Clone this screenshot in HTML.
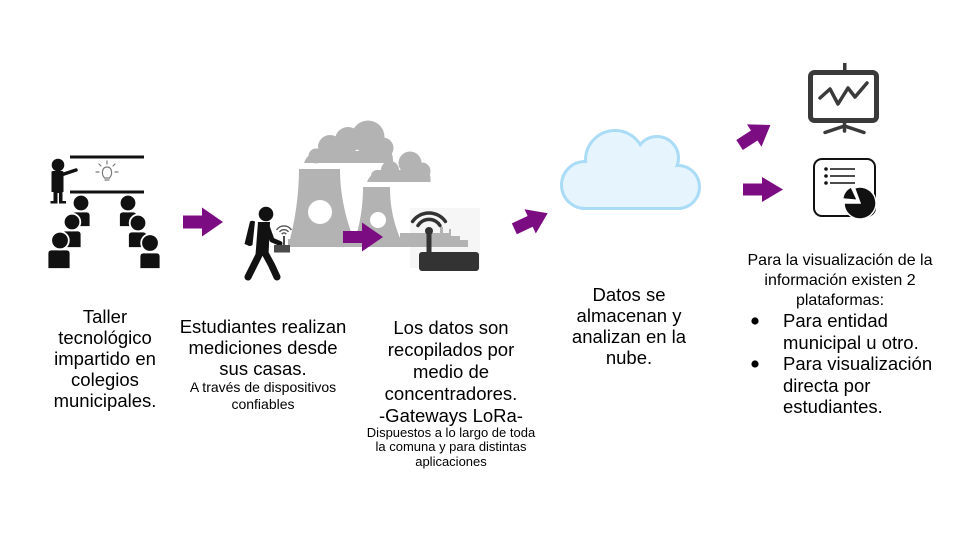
<!DOCTYPE html>
<html>
<head>
<meta charset="utf-8">
<style>
  html,body{margin:0;padding:0;background:#fff;}
  #wrap{position:relative;width:960px;height:540px;overflow:hidden;background:#fff;font-family:"Liberation Sans",Arial,sans-serif;color:#000;}
  svg{position:absolute;left:0;top:0;}
  .t{position:absolute;text-align:center;white-space:nowrap;font-size:18.5px;line-height:21px;}
  .s{font-size:14px;line-height:17px;}
</style>
</head>
<body>
<div id="wrap">
<svg width="960" height="540" viewBox="0 0 960 540" xmlns="http://www.w3.org/2000/svg">
  <!-- ===== Teacher / classroom icon ===== -->
  <rect x="70" y="155.5" width="74" height="3" fill="#111"/>
  <rect x="70" y="190.5" width="74" height="3" fill="#111"/>
  <!-- bulb -->
  <g stroke="#7a7a7a" stroke-width="1.2" fill="none" stroke-linecap="round">
    <path d="M104.5 178 C101 174 102 167 107 167 C112 167 113 174 109.5 178 Z"/>
    <line x1="105" y1="180" x2="109" y2="180"/>
    <line x1="107" y1="161" x2="107" y2="164"/>
    <line x1="99" y1="164" x2="101" y2="166"/>
    <line x1="115" y1="164" x2="113" y2="166"/>
    <line x1="96" y1="172" x2="99" y2="172"/>
    <line x1="115" y1="172" x2="118" y2="172"/>
  </g>
  <!-- teacher -->
  <circle cx="58" cy="165" r="6.3" fill="#111"/>
  <path d="M51.5 172 Q51.5 171 53 171 L62 171 Q63.5 171 63.5 172.5 L63.5 192 L62.5 192 L62.5 201 L66 201 L66 203.5 L59 203.5 L59 193 L57.5 193 L57.5 203.5 L50.5 203.5 L50.5 201 L53.5 201 L53.5 192 L51.5 192 Z" fill="#111"/>
  <path d="M61 175 L76 170" stroke="#111" stroke-width="3.5" stroke-linecap="round"/>
  <!-- students left -->
  <g fill="#111" stroke="#fff" stroke-width="1.8">
    <path d="M71.5 227 L71.5 215.5 Q71.5 211.5 75.5 211.5 L86.5 211.5 Q90.5 211.5 90.5 215.5 L90.5 227 Z"/>
    <circle cx="81" cy="203" r="8.3"/>
    <path d="M61.5 248 L61.5 234.5 Q61.5 230.5 65.5 230.5 L77.5 230.5 Q81.5 230.5 81.5 234.5 L81.5 248 Z"/>
    <circle cx="72" cy="222" r="8.3"/>
    <path d="M47.5 269 L47.5 253.5 Q47.5 249.5 51.5 249.5 L66.5 249.5 Q70.5 249.5 70.5 253.5 L70.5 269 Z"/>
    <circle cx="60" cy="240.5" r="8.8"/>
  </g>
  <!-- students right -->
  <g fill="#111" stroke="#fff" stroke-width="1.8">
    <path d="M119 227 L119 215.5 Q119 211.5 123 211.5 L133 211.5 Q137 211.5 137 215.5 L137 227 Z"/>
    <circle cx="128" cy="203" r="8.3"/>
    <path d="M128 248 L128 235.5 Q128 231.5 132 231.5 L143 231.5 Q147 231.5 147 235.5 L147 248 Z"/>
    <circle cx="138" cy="223" r="8.3"/>
    <path d="M139.5 269 L139.5 256.5 Q139.5 252.5 143.5 252.5 L156.5 252.5 Q160.5 252.5 160.5 256.5 L160.5 269 Z"/>
    <circle cx="150" cy="243" r="8.8"/>
  </g>

  <!-- ===== Factory ===== -->
  <rect x="410" y="208" width="70" height="60" fill="#f6f6f6"/>
  <g fill="#b3b3b3">
    <!-- left cloud -->
    <path d="M304 163 Q306 156 314 152 L316 163 Z"/>
    <circle cx="316" cy="156" r="7.5"/>
    <circle cx="330" cy="147" r="12"/>
    <circle cx="348" cy="140" r="13"/>
    <circle cx="368" cy="137" r="16.5"/>
    <circle cx="383" cy="148" r="10.5"/>
    <path d="M314 151 L390 151 Q393.5 155 393 163 L314 163 Z"/>
    <!-- right cloud -->
    <path d="M367 182 Q369 176 375 173 L377 182 Z"/>
    <circle cx="377" cy="176" r="6"/>
    <circle cx="390" cy="170" r="9"/>
    <circle cx="410" cy="163" r="11.5"/>
    <circle cx="422" cy="171" r="8.5"/>
    <path d="M376 170 L428 170 Q431 175 430.5 182 L376 182 Z"/>
    <!-- left tower -->
    <path d="M299 169 L340 169 C340 195 346 222 357 247 L288 247 C295 222 299 195 299 169 Z"/>
    <!-- right tower -->
    <path d="M363 187 L390 187 C390 210 395 228 404 247 L353 247 C359 228 363 210 363 187 Z"/>
    <!-- base -->
    <rect x="288" y="239" width="120" height="8"/>
    <path d="M400 247 L400 233 L440 233 L440 227 L443 227 L443 233 L449 233 L449 229 L451 229 L451 236 L460 236 L460 240 L468 240 L468 247 Z"/>
  </g>
  <circle cx="320" cy="212" r="12" fill="#fff"/>
  <circle cx="378" cy="220" r="8" fill="#fff"/>

  <!-- router -->
  <g fill="none" stroke="#333" stroke-width="3.5" stroke-linecap="round">
    <path d="M412.6 221.5 A20 20 0 0 1 445.4 221.5"/>
    <path d="M418 225.5 A13 13 0 0 1 440 225.5"/>
  </g>
  <circle cx="429" cy="231" r="4" fill="#333"/>
  <rect x="426.5" y="230" width="5" height="25" fill="#333"/>
  <rect x="419" y="252" width="60" height="19" rx="3" fill="#333"/>

  <!-- walking man -->
  <g fill="#111">
    <circle cx="266" cy="214" r="7.3"/>
    <path d="M250 221.5 Q252 220 255 221.5 L252.5 245 Q250 247 247 245 L244.5 244 Z"/>
    <path d="M258 222 L270 222 L268.5 255 L255.5 255 Z"/>
  </g>
  <g fill="none" stroke="#111" stroke-linecap="round" stroke-linejoin="round">
    <path d="M267 226 L272 240 L280 243.5" stroke-width="5"/>
    <path d="M260 253 L248 277" stroke-width="7"/>
    <path d="M265 253 L271.5 265 L277 277" stroke-width="7"/>
  </g>
  <!-- handheld device -->
  <rect x="274" y="245" width="16" height="7.5" fill="#4a4a4a"/>
  <rect x="283" y="236" width="2" height="9" fill="#4a4a4a"/>
  <g fill="none" stroke="#555" stroke-width="1.4">
    <path d="M276.5 230 A9 9 0 0 1 291.5 230"/>
    <path d="M279.5 232 A5.5 5.5 0 0 1 288.5 232"/>
    <path d="M281.8 234.2 A2.6 2.6 0 0 1 286.2 234.2"/>
  </g>

  <!-- ===== Cloud ===== -->
  <g fill="#abdcf7" stroke="#abdcf7" stroke-width="6">
    <circle cx="585" cy="185" r="22"/>
    <circle cx="615" cy="160" r="28"/>
    <circle cx="657" cy="158" r="20"/>
    <circle cx="678" cy="187" r="20"/>
    <rect x="585" y="168" width="93" height="39"/>
  </g>
  <g fill="#e6f5fd">
    <circle cx="585" cy="185" r="22"/>
    <circle cx="615" cy="160" r="28"/>
    <circle cx="657" cy="158" r="20"/>
    <circle cx="678" cy="187" r="20"/>
    <rect x="585" y="168" width="93" height="39"/>
  </g>

  <!-- ===== Presentation icon ===== -->
  <rect x="843" y="63" width="3.5" height="9" fill="#3a3a3a"/>
  <rect x="810.5" y="72.5" width="66" height="48" rx="4" fill="none" stroke="#3a3a3a" stroke-width="5"/>
  <polyline points="820,98 830,89 838,104 848,88 855,97 867,83" fill="none" stroke="#3a3a3a" stroke-width="3.5" stroke-linejoin="round" stroke-linecap="round"/>
  <g stroke="#3a3a3a" stroke-width="3.5" stroke-linecap="round">
    <line x1="844.5" y1="122" x2="844.5" y2="131"/>
    <line x1="844.5" y1="126" x2="825" y2="132.5"/>
    <line x1="844.5" y1="126" x2="864" y2="132.5"/>
  </g>

  <!-- ===== Report icon ===== -->
  <rect x="814" y="159" width="61" height="57" rx="8" fill="none" stroke="#111" stroke-width="2"/>
  <g fill="#111">
    <circle cx="826" cy="169" r="1.8"/>
    <circle cx="826" cy="176" r="1.8"/>
    <circle cx="826" cy="183" r="1.8"/>
  </g>
  <g stroke="#111" stroke-width="1.6">
    <line x1="830" y1="169" x2="855" y2="169"/>
    <line x1="830" y1="176" x2="855" y2="176"/>
    <line x1="830" y1="183" x2="855" y2="183"/>
  </g>
  <path d="M860 203 L854.5 188 A16 16 0 1 1 844 203 Z" fill="#111" stroke="#fff" stroke-width="1.5"/>
  <path d="M857 200 L843 198.8 A14 14 0 0 1 851.1 187.3 Z" fill="#111" stroke="#fff" stroke-width="1"/>

  <!-- ===== Purple arrows ===== -->
  <g fill="#7b0c82">
    <polygon transform="translate(203,222)" points="-20,-6.5 -1,-6.5 -1,-14.5 20,0 -1,14.5 -1,6.5 -20,6.5"/>
    <polygon transform="translate(363,237)" points="-20,-6 -1,-6 -1,-14.5 20,0 -1,14.5 -1,6 -20,6"/>
    <polygon transform="translate(531,221) rotate(-25) scale(0.92)" points="-20,-6.5 -1,-6.5 -1,-14.5 20,0 -1,14.5 -1,6.5 -20,6.5"/>
    <polygon transform="translate(755,135) rotate(-33) scale(0.92)" points="-20,-6.5 -1,-6.5 -1,-14.5 20,0 -1,14.5 -1,6.5 -20,6.5"/>
    <polygon transform="translate(763,189.5)" points="-20,-6 -1,-6 -1,-12.5 20,0 -1,12.5 -1,6 -20,6"/>
  </g>

  <!-- bullets -->
  <circle cx="755" cy="321" r="3.6" fill="#000"/>
  <circle cx="755" cy="364" r="3.6" fill="#000"/>
</svg>

<div class="t" style="left:5px;top:306.4px;width:200px;">Taller<br>tecnológico<br>impartido en<br>colegios<br>municipales.</div>

<div class="t" style="left:163px;top:316px;width:200px;">Estudiantes realizan<br>mediciones desde<br>sus casas.<div class="s">A través de dispositivos<br>confiables</div></div>

<div class="t" style="left:351px;top:316.9px;width:200px;line-height:22px;">Los datos son<br>recopilados por<br>medio de<br>concentradores.<br>-Gateways LoRa-</div>
<div class="t" style="left:351px;top:425.5px;width:200px;font-size:13px;line-height:14.5px;">Dispuestos a lo largo de toda<br>la comuna y para distintas<br>aplicaciones</div>

<div class="t" style="left:529px;top:284px;width:200px;">Datos se<br>almacenan y<br>analizan en la<br>nube.</div>

<div class="t" style="left:740px;top:251.4px;width:200px;font-size:16px;line-height:20px;">Para la visualización de la<br>información existen 2<br>plataformas:</div>

<div class="t" style="left:783px;top:310.4px;text-align:left;line-height:21.5px;">Para entidad<br>municipal u otro.<br>Para visualización<br>directa por<br>estudiantes.</div>
</div>
</body>
</html>
